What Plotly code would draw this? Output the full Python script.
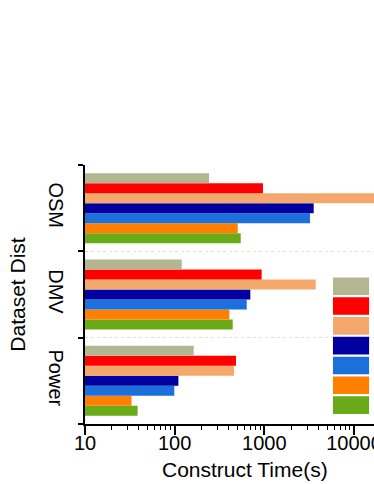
import plotly.graph_objects as go

# dataset groups, bottom to top on the y axis
datasets = ["Power", "DMV", "OSM"]

# series listed top to bottom as they appear in each group / legend
series_names = ["M1", "M2", "M3", "M4", "M5", "M6", "M7"]
series_colors = ["#b3b691", "#ff0000", "#f4a86c", "#0000a0", "#1b70dc", "#ff8000", "#6aaa19"]

# construct time in seconds, values in order Power, DMV, OSM
construct_time = {
    "M1": [163, 120, 242],
    "M2": [483, 934, 966],
    "M3": [459, 3740, 20000],
    "M4": [110, 698, 3550],
    "M5": [99, 636, 3230],
    "M6": [33, 407, 505],
    "M7": [38.6, 444, 545],
}

FONT = "Arial, Liberation Sans, sans-serif"

fig = go.Figure()

# plotly stacks horizontal groups bottom-up, so add the bottom series first
for name, color in reversed(list(zip(series_names, series_colors))):
    fig.add_trace(go.Bar(
        x=construct_time[name], y=datasets, name=name, orientation="h",
        marker=dict(color=color, line=dict(width=0)), showlegend=False,
    ))

# legend boxes (labels fall outside the visible area)
top, step, h = 0.566, 0.0765, 0.068
for i, color in enumerate(series_colors):
    y1 = top - i * step
    fig.add_shape(type="rect", xref="paper", yref="paper",
                  x0=0.858, x1=0.983, y0=y1 - h, y1=y1,
                  fillcolor=color, line=dict(width=0), layer="above")

fig.add_annotation(text="Construct Time(s)", xref="paper", yref="paper",
                   x=0.552, y=-0.175, yanchor="middle", showarrow=False,
                   font=dict(family=FONT, size=21, color="black"))

fig.update_layout(
    width=374, height=484,
    margin=dict(l=85, r=0, t=165, b=60),
    barmode="group", bargap=0.19, bargroupgap=0,
    plot_bgcolor="white", paper_bgcolor="white",
    font=dict(family=FONT, color="black"),
    hovermode=False,
    xaxis=dict(
        type="log", range=[1, 4.223], dtick=1, tickformat="d", automargin=False,
        showgrid=False, zeroline=False,
        showline=True, linecolor="black", linewidth=1.5,
        ticks="outside", ticklen=9, tickwidth=1.5, tickcolor="black",
        tickfont=dict(size=20), ticklabelstandoff=-9, ticklabeloverflow="allow",
        minor=dict(ticks="outside", ticklen=4, tickwidth=1, tickcolor="black",
                   dtick="D1", showgrid=False),
    ),
    yaxis=dict(
        type="category", categoryarray=datasets, range=[-0.5, 2.5], automargin=False,
        tickson="boundaries", ticks="outside", ticklen=5, tickwidth=1.5, tickcolor="black",
        showgrid=True, gridcolor="#dddddd", griddash="dot", gridwidth=1,
        showline=True, linecolor="black", linewidth=1.5,
        tickangle=90, tickfont=dict(size=20), ticklabelstandoff=10,
        title=dict(text="Dataset Dist", font=dict(size=21), standoff=14),
    ),
    yaxis2=dict(
        type="category", categoryarray=datasets, range=[-0.5, 2.5], automargin=False,
        overlaying="y", anchor="x", side="left",
        ticks="outside", ticklen=9, tickwidth=1.5, tickcolor="black",
        showticklabels=False, showgrid=False, showline=False, zeroline=False,
    ),
)

# drop the default 8px body margin so the figure fills the window exactly
fig.write_html("out.html", config={"displayModeBar": False},
               post_script="document.body.style.margin = '0';")
